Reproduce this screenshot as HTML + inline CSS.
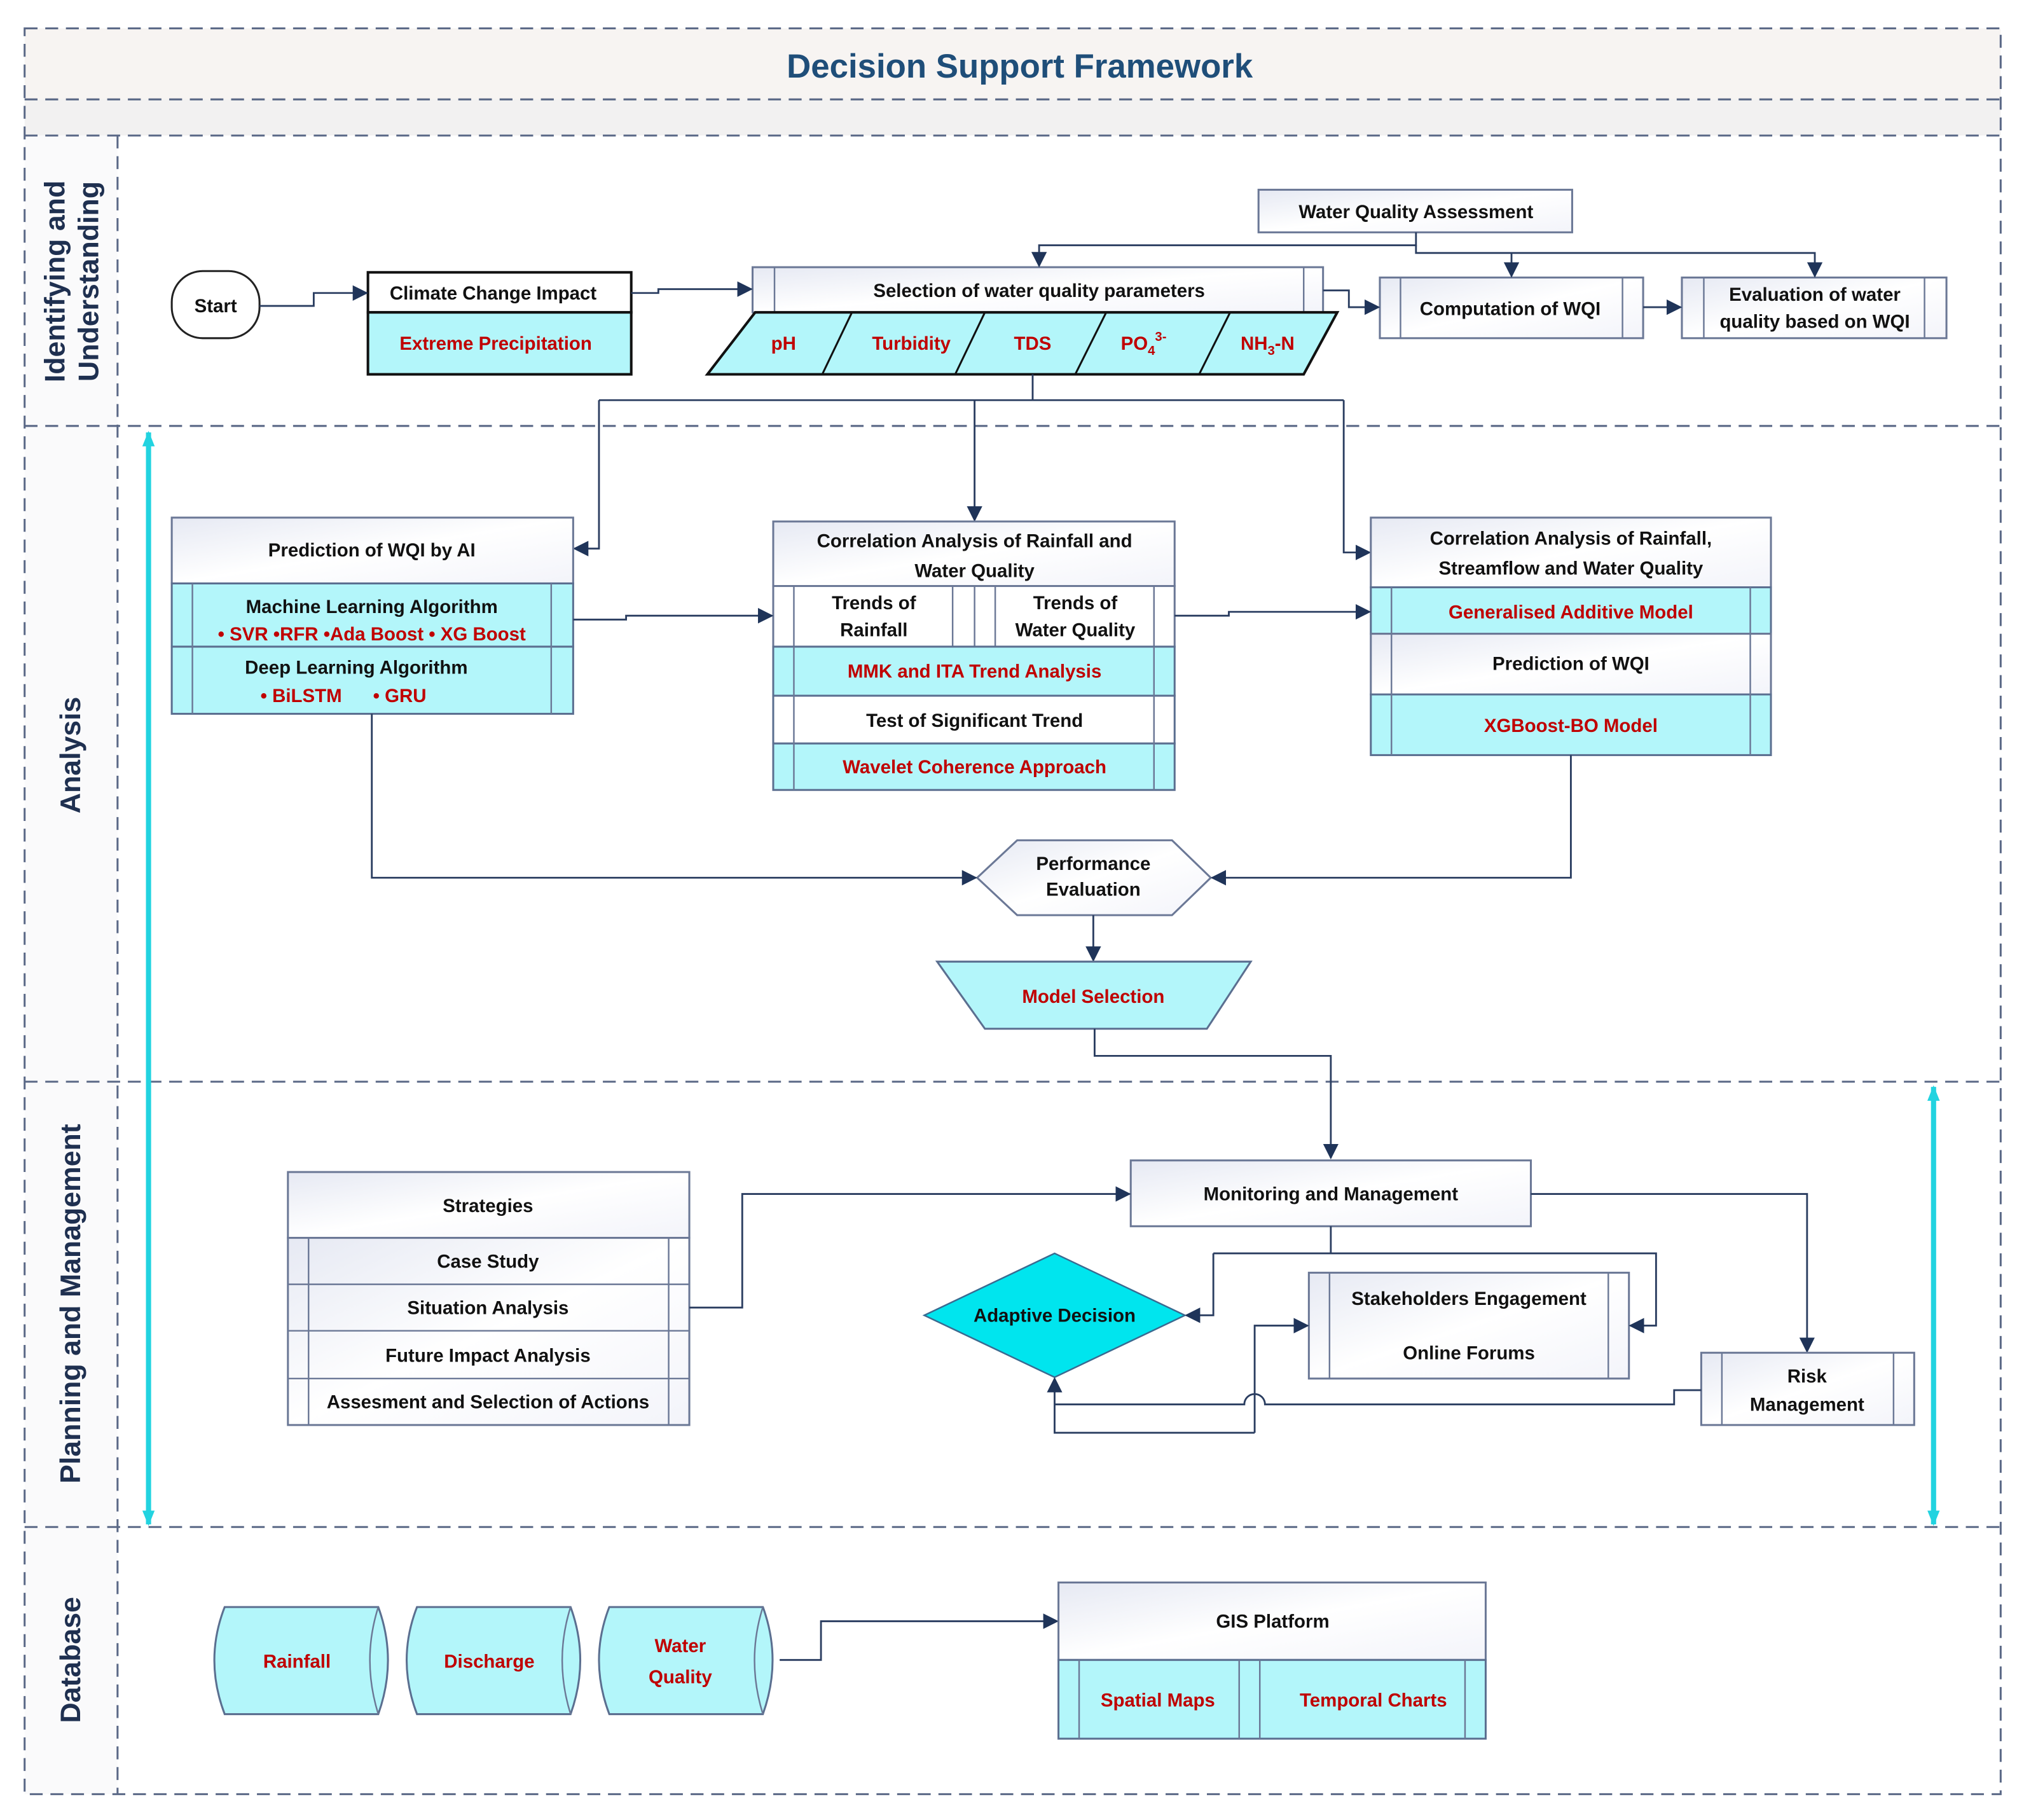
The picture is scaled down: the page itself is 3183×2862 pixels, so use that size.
<!DOCTYPE html>
<html><head><meta charset="utf-8"><style>
html,body{margin:0;padding:0;background:#fff;}
svg{display:block;}
text{font-family:"Liberation Sans",sans-serif;}
</style></head><body>
<svg width="3183" height="2862" viewBox="0 0 1568 1410" xmlns="http://www.w3.org/2000/svg">
<defs>
<marker id="ar" viewBox="0 0 10 10" refX="9" refY="5" markerWidth="12" markerHeight="12" orient="auto" markerUnits="userSpaceOnUse"><path d="M0,0 L10,5 L0,10 z" fill="#1f3459"/></marker>
<marker id="ca" viewBox="0 0 10 10" refX="9" refY="5" markerWidth="12" markerHeight="12" orient="auto-start-reverse" markerUnits="userSpaceOnUse"><path d="M0,1 L10,5 L0,9 z" fill="#22d3e0"/></marker>
<linearGradient id="g" x1="0" y1="0" x2="1" y2="1"><stop offset="0" stop-color="#e6e9f3"/><stop offset="0.5" stop-color="#ffffff"/><stop offset="1" stop-color="#f3f4fa"/></linearGradient>
</defs>
<style>
.b{fill:url(#g);stroke:#6b7896;stroke-width:1.5}
.c{fill:#b3f6fa;stroke:#5b6f90;stroke-width:1.5}
.t{font-size:14.5px;fill:#111;text-anchor:middle;font-weight:bold}
.r{font-size:14.5px;fill:#c00000;text-anchor:middle;font-weight:bold}
.l{fill:none;stroke:#2a3d60;stroke-width:1.4}
.s{fill:none;stroke:#6b7896;stroke-width:1.2}
.d{stroke:#5a6886;stroke-width:1.5;stroke-dasharray:10 6;fill:none}
.lane{font-size:22px;font-weight:bold;fill:#1f3050;text-anchor:middle}
</style>
<rect x="19" y="22" width="1531" height="55" fill="#f7f4f2"/>
<rect x="19" y="77" width="1531" height="28" fill="#f2f1f1"/>
<rect x="19" y="105" width="72" height="1285" fill="#fafafb"/>
<text x="790" y="60" font-size="26" font-weight="bold" fill="#1f4e79" text-anchor="middle">Decision Support  Framework</text>
<rect x="19" y="22" width="1531" height="1368" class="d"/>
<line x1="19" y1="77" x2="1550" y2="77" class="d"/>
<line x1="19" y1="105" x2="1550" y2="105" class="d"/>
<line x1="19" y1="330" x2="1550" y2="330" class="d"/>
<line x1="19" y1="838" x2="1550" y2="838" class="d"/>
<line x1="19" y1="1183" x2="1550" y2="1183" class="d"/>
<line x1="91" y1="105" x2="91" y2="1390" class="d"/>
<text class="lane" transform="translate(50,218) rotate(-90)">Identifying and</text>
<text class="lane" transform="translate(76,218) rotate(-90)">Understanding</text>
<text class="lane" transform="translate(62,585) rotate(-90)">Analysis</text>
<text class="lane" transform="translate(62,1010) rotate(-90)">Planning and Management</text>
<text class="lane" transform="translate(62,1286) rotate(-90)">Database</text>
<line x1="115" y1="335" x2="115" y2="1181" stroke="#22d3e0" stroke-width="4" marker-start="url(#ca)" marker-end="url(#ca)"/>
<line x1="1498" y1="842" x2="1498" y2="1181" stroke="#22d3e0" stroke-width="4" marker-start="url(#ca)" marker-end="url(#ca)"/>

<rect x="133" y="210" width="68" height="52" rx="24" fill="#fff" stroke="#222" stroke-width="1.5"/>
<text class="t" x="167" y="242">Start</text>
<rect x="285" y="211" width="204" height="31" fill="#fff" stroke="#111" stroke-width="2"/>
<rect x="285" y="242" width="204" height="48" fill="#b3f6fa" stroke="#111" stroke-width="2"/>
<text class="t" x="382" y="232">Climate Change Impact</text>
<text class="r" x="384" y="271">Extreme Precipitation</text>
<rect x="583" y="207" width="442" height="35" class="b"/>
<line x1="600" y1="207" x2="600" y2="242" class="s"/><line x1="1010" y1="207" x2="1010" y2="242" class="s"/>
<text class="t" x="805" y="230">Selection of water quality parameters</text>
<path d="M585,242 L1036,242 L1010,290 L548,290 Z" fill="#b3f6fa" stroke="#111" stroke-width="2"/>
<path d="M660,242 L637,290 M763,242 L740,290 M857,242 L833,290 M953,242 L929,290" stroke="#111" stroke-width="1.5"/>
<text class="r" x="607" y="271">pH</text>
<text class="r" x="706" y="271">Turbidity</text>
<text class="r" x="800" y="271">TDS</text>
<text class="r" x="886" y="271">PO<tspan font-size="10" dy="4">4</tspan><tspan font-size="10" dy="-11">3-</tspan></text>
<text class="r" x="982" y="271">NH<tspan font-size="10" dy="4">3</tspan><tspan dy="-4">-N</tspan></text>
<rect x="975" y="147" width="243" height="33" class="b"/>
<text class="t" x="1097" y="169">Water Quality Assessment</text>
<rect x="1069" y="215" width="204" height="47" class="b"/>
<line x1="1085" y1="215" x2="1085" y2="262" class="s"/><line x1="1257" y1="215" x2="1257" y2="262" class="s"/>
<text class="t" x="1170" y="244">Computation of WQI</text>
<rect x="1303" y="215" width="205" height="47" class="b"/>
<line x1="1320" y1="215" x2="1320" y2="262" class="s"/><line x1="1491" y1="215" x2="1491" y2="262" class="s"/>
<text class="t" x="1406" y="233">Evaluation of water</text>
<text class="t" x="1406" y="254">quality based on WQI</text>
<path class="l" d="M201,237 H243 V227 H284" marker-end="url(#ar)"/>
<path class="l" d="M489,227 H510 V224 H582" marker-end="url(#ar)"/>
<path class="l" d="M1097,180 V190 H805 V206" marker-end="url(#ar)"/>
<path class="l" d="M1097,190 V196 H1406 V214" marker-end="url(#ar)"/>
<path class="l" d="M1171,196 V214" marker-end="url(#ar)"/>
<path class="l" d="M1025,225 H1045 V238 H1068" marker-end="url(#ar)"/>
<path class="l" d="M1273,238 H1302" marker-end="url(#ar)"/>
<path class="l" d="M800,290 V310 M464,310 H1041" />
<path class="l" d="M464,310 V425 H445" marker-end="url(#ar)"/>
<path class="l" d="M755,310 V403" marker-end="url(#ar)"/>
<path class="l" d="M1041,310 V428 H1061" marker-end="url(#ar)"/>

<rect x="133" y="401" width="311" height="51" class="b"/>
<text class="t" x="288" y="431">Prediction of WQI by AI</text>
<rect x="133" y="452" width="311" height="49" class="c"/>
<rect x="133" y="501" width="311" height="52" class="c"/>
<line x1="149" y1="452" x2="149" y2="553" class="s"/><line x1="427" y1="452" x2="427" y2="553" class="s"/>
<text class="t" x="288" y="475">Machine Learning Algorithm</text>
<text class="r" x="288" y="496" font-size="14">• SVR •RFR  •Ada Boost  • XG Boost</text>
<text class="t" x="276" y="522">Deep Learning Algorithm</text>
<text class="r" x="266" y="544" xml:space="preserve">• BiLSTM      • GRU</text>
<rect x="599" y="404" width="311" height="50" class="b"/>
<text class="t" x="755" y="424">Correlation Analysis of Rainfall and</text>
<text class="t" x="755" y="447">Water Quality</text>
<rect x="599" y="454" width="311" height="47" fill="#fff" stroke="#6b7896" stroke-width="1.5"/>
<line x1="615" y1="454" x2="615" y2="612" class="s"/><line x1="894" y1="454" x2="894" y2="612" class="s"/>
<line x1="738" y1="454" x2="738" y2="501" class="s"/><line x1="755" y1="454" x2="755" y2="501" class="s"/><line x1="771" y1="454" x2="771" y2="501" class="s"/>
<text class="t" x="677" y="472">Trends of</text><text class="t" x="677" y="493">Rainfall</text>
<text class="t" x="833" y="472">Trends of</text><text class="t" x="833" y="493">Water Quality</text>
<rect x="599" y="501" width="311" height="38" class="c"/>
<rect x="599" y="539" width="311" height="37" fill="#fff" stroke="#5b6f90" stroke-width="1.5"/>
<rect x="599" y="576" width="311" height="36" class="c"/>
<line x1="615" y1="501" x2="615" y2="612" class="s"/><line x1="894" y1="501" x2="894" y2="612" class="s"/>
<text class="r" x="755" y="525">MMK and ITA Trend Analysis</text>
<text class="t" x="755" y="563">Test of Significant Trend</text>
<text class="r" x="755" y="599">Wavelet Coherence Approach</text>
<rect x="1062" y="401" width="310" height="54" class="b"/>
<text class="t" x="1217" y="422">Correlation Analysis of Rainfall,</text>
<text class="t" x="1217" y="445">Streamflow and Water Quality</text>
<rect x="1062" y="455" width="310" height="36" class="c"/>
<rect x="1062" y="491" width="310" height="47" class="b"/>
<rect x="1062" y="538" width="310" height="47" class="c"/>
<line x1="1078" y1="455" x2="1078" y2="585" class="s"/><line x1="1356" y1="455" x2="1356" y2="585" class="s"/>
<text class="r" x="1217" y="479">Generalised Additive Model</text>
<text class="t" x="1217" y="519">Prediction of WQI</text>
<text class="r" x="1217" y="567">XGBoost-BO Model</text>
<path class="l" d="M444,480 H485 V477 H598" marker-end="url(#ar)"/>
<path class="l" d="M910,477 H952 V474 H1061" marker-end="url(#ar)"/>
<path d="M757,680 L788,651 L908,651 L938,680 L908,709 L788,709 Z" class="b"/>
<text class="t" x="847" y="674">Performance</text><text class="t" x="847" y="694">Evaluation</text>
<path class="l" d="M288,553 V680 H756" marker-end="url(#ar)"/>
<path class="l" d="M1217,585 V680 H939" marker-end="url(#ar)"/>
<path class="l" d="M847,709 V744" marker-end="url(#ar)"/>
<path d="M726,745 L969,745 L935,797 L763,797 Z" class="c"/>
<text class="r" x="847" y="777">Model Selection</text>
<path class="l" d="M848,797 V818 H1031 V897" marker-end="url(#ar)"/>

<rect x="876" y="899" width="310" height="51" class="b"/>
<text class="t" x="1031" y="930">Monitoring and Management</text>
<rect x="223" y="908" width="311" height="51" class="b"/>
<text class="t" x="378" y="939">Strategies</text>
<rect x="223" y="959" width="311" height="145" class="b"/>
<line x1="223" y1="995" x2="534" y2="995" class="s"/><line x1="223" y1="1031" x2="534" y2="1031" class="s"/><line x1="223" y1="1068" x2="534" y2="1068" class="s"/>
<line x1="239" y1="959" x2="239" y2="1104" class="s"/><line x1="518" y1="959" x2="518" y2="1104" class="s"/>
<text class="t" x="378" y="982">Case Study</text>
<text class="t" x="378" y="1018">Situation Analysis</text>
<text class="t" x="378" y="1055">Future Impact Analysis</text>
<text class="t" x="378" y="1091">Assesment and Selection of Actions</text>
<path class="l" d="M534,1013 H575 V925 H875" marker-end="url(#ar)"/>
<path class="l" d="M1186,925 H1400 V1047" marker-end="url(#ar)"/>
<path d="M817,971 L918,1019 L817,1067 L716,1019 Z" fill="#00e5ee" stroke="#3a6a90" stroke-width="1.2"/>
<text class="t" x="817" y="1024">Adaptive Decision</text>
<rect x="1014" y="986" width="248" height="82" class="b"/>
<line x1="1030" y1="986" x2="1030" y2="1068" class="s"/><line x1="1246" y1="986" x2="1246" y2="1068" class="s"/>
<text class="t" x="1138" y="1011">Stakeholders Engagement</text>
<text class="t" x="1138" y="1053">Online Forums</text>
<rect x="1318" y="1048" width="165" height="56" class="b"/>
<line x1="1334" y1="1048" x2="1334" y2="1104" class="s"/><line x1="1467" y1="1048" x2="1467" y2="1104" class="s"/>
<text class="t" x="1400" y="1071">Risk</text><text class="t" x="1400" y="1093">Management</text>
<path class="l" d="M1031,950 V971"/>
<path class="l" d="M940,971 H1283 V1027 H1263" marker-end="url(#ar)"/>
<path class="l" d="M940,971 V1019 H919" marker-end="url(#ar)"/>
<path class="l" d="M1318,1077 H1297 V1088 H980 A8,8 0 0 0 964,1088 H817"/>
<path class="l" d="M972,1110 V1027 H1013" marker-end="url(#ar)"/>
<path class="l" d="M972,1110 H817 V1068" marker-end="url(#ar)"/>

<path d="M174,1245 H293 Q308,1286 293,1328 H174 Q158,1286 174,1245 Z" class="c"/>
<path d="M293,1245 Q280,1286 293,1328" class="s"/>
<text class="r" x="230" y="1292">Rainfall</text>
<path d="M323,1245 H442 Q457,1286 442,1328 H323 Q307,1286 323,1245 Z" class="c"/>
<path d="M442,1245 Q429,1286 442,1328" class="s"/>
<text class="r" x="379" y="1292">Discharge</text>
<path d="M472,1245 H591 Q606,1286 591,1328 H472 Q456,1286 472,1245 Z" class="c"/>
<path d="M591,1245 Q578,1286 591,1328" class="s"/>
<text class="r" x="527" y="1280">Water</text><text class="r" x="527" y="1304">Quality</text>
<path class="l" d="M604,1286 H636 V1256 H819" marker-end="url(#ar)"/>
<rect x="820" y="1226" width="331" height="60" class="b"/>
<text class="t" x="986" y="1261">GIS Platform</text>
<rect x="820" y="1286" width="331" height="61" class="c"/>
<line x1="836" y1="1286" x2="836" y2="1347" class="s"/><line x1="960" y1="1286" x2="960" y2="1347" class="s"/><line x1="976" y1="1286" x2="976" y2="1347" class="s"/><line x1="1135" y1="1286" x2="1135" y2="1347" class="s"/>
<text class="r" x="897" y="1322">Spatial Maps</text>
<text class="r" x="1064" y="1322">Temporal Charts</text>
</svg>
</body></html>
